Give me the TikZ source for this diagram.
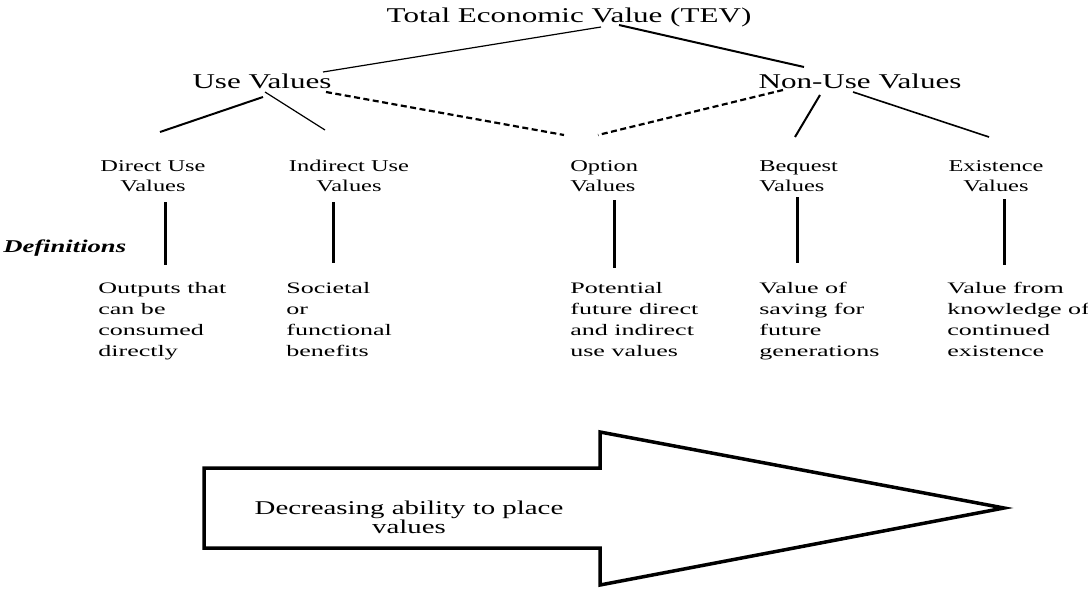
\documentclass[tikz,border=0pt]{standalone}
\usepackage{fontspec}
\setmainfont{Liberation Serif}
\usetikzlibrary{positioning}
\usetikzlibrary{calc}
\tikzset{
	txt/.style={inner sep=0pt,xscale=1.48},
	haut/.style={txt,font=\fontsize{21}{24}\selectfont,anchor=base},
	milieu/.style={txt,font=\fontsize{16.5}{20}\selectfont,anchor=base},
	defn/.style={txt,xscale=1.1,font=\fontsize{16}{20.7}\selectfont,align=left,anchor=base west},
	trait/.style={line width=3pt},
	pointille/.style={line width=2.2pt,dash pattern=on 6pt off 3.5pt}
}

\begin{document}
\begin{tikzpicture}[x=1pt,y=-1pt]
	\useasboundingbox (0,0) rectangle (1088,589);
	
	%Niveaux du haut
	\node[haut] (tev) at (569,23) {Total Economic Value (TEV)};
	\node[haut] (use) at (262,88) {Use Values};
	\node[haut] (nonuse) at (860,88) {Non-Use Values};
	
	%Types de valeurs (base = derniere ligne)
	\node[milieu,align=center] (direct) at (153,191) {Direct Use\\Values};
	\node[milieu,align=center] (indirect) at (349,191) {Indirect Use\\Values};
	\node[milieu,align=left,anchor=base west] (option) at (570,191) {Option\\Values};
	\node[milieu,align=left,anchor=base west] (bequest) at (759,191) {Bequest\\Values};
	\node[milieu,align=center] (existence) at (996,191) {Existence\\Values};
	
	\node[txt,font=\fontsize{18}{20}\selectfont\bfseries\itshape,anchor=base west] (defs) at (3,252) {Definitions};
	
	%Definitions
	\node[defn] (directdef) at (98,356) {Outputs that\\can be\\consumed\\directly};
	\node[defn] (indirectdef) at (286,356) {Societal\\or\\functional\\benefits};
	\node[defn] (optiondef) at (570,356) {Potential\\future direct\\and indirect\\use values};
	\node[defn] (bequestdef) at (759,356) {Value of\\saving for\\future\\generations};
	\node[defn] (existencedef) at (947,356) {Value from\\knowledge of\\continued\\existence};
	
	%Extremites des traits
	\coordinate (tevA) at (601,27);
	\coordinate (tevB) at (619,25);
	\coordinate (useA) at (323,72);
	\coordinate (useB) at (263,97);
	\coordinate (useC) at (265,92);
	\coordinate (useD) at (326,92);
	\coordinate (nonuseA) at (804,67);
	\coordinate (nonuseB) at (783,90);
	\coordinate (nonuseC) at (820,95);
	\coordinate (nonuseD) at (853,92);
	\coordinate (directA) at (160,132);
	\coordinate (indirectA) at (325,130);
	\coordinate (optionA) at (564,135);
	\coordinate (optionB) at (598,135);
	\coordinate (bequestA) at (795,137);
	\coordinate (existenceA) at (989,137);
	
	\draw[line width=1.2pt] (tevA) -- (useA);
	\draw[line width=2pt] (tevB) -- (nonuseA);
	\draw[line width=2pt] (useB) -- (directA);
	\draw[line width=1.2pt] (useC) -- (indirectA);
	\draw[pointille] (useD) -- (optionA);
	\draw[pointille] (nonuseB) -- (optionB);
	\draw[line width=2pt] (nonuseC) -- (bequestA);
	\draw[line width=1.6pt] (nonuseD) -- (existenceA);
	
	%Traits verticaux
	\draw[trait] (165,202) -- (165,265);
	\draw[trait] (333,202) -- (333,263);
	\draw[trait] (614,200) -- (614,268);
	\draw[trait] (797,197) -- (797,263);
	\draw[trait] (1004,199) -- (1004,265);
	
	%Fleche
	\draw[line width=3.5pt,line join=miter] (204,468) -- (600,468) -- (600,432) -- (1004,508) -- (600,585) -- (600,548) -- (204,548) -- cycle;
	\node[txt,font=\fontsize{19.5}{19}\selectfont,align=center,anchor=base] (fleche) at (409,533) {Decreasing ability to place\\values};
	
\end{tikzpicture}
\end{document}
